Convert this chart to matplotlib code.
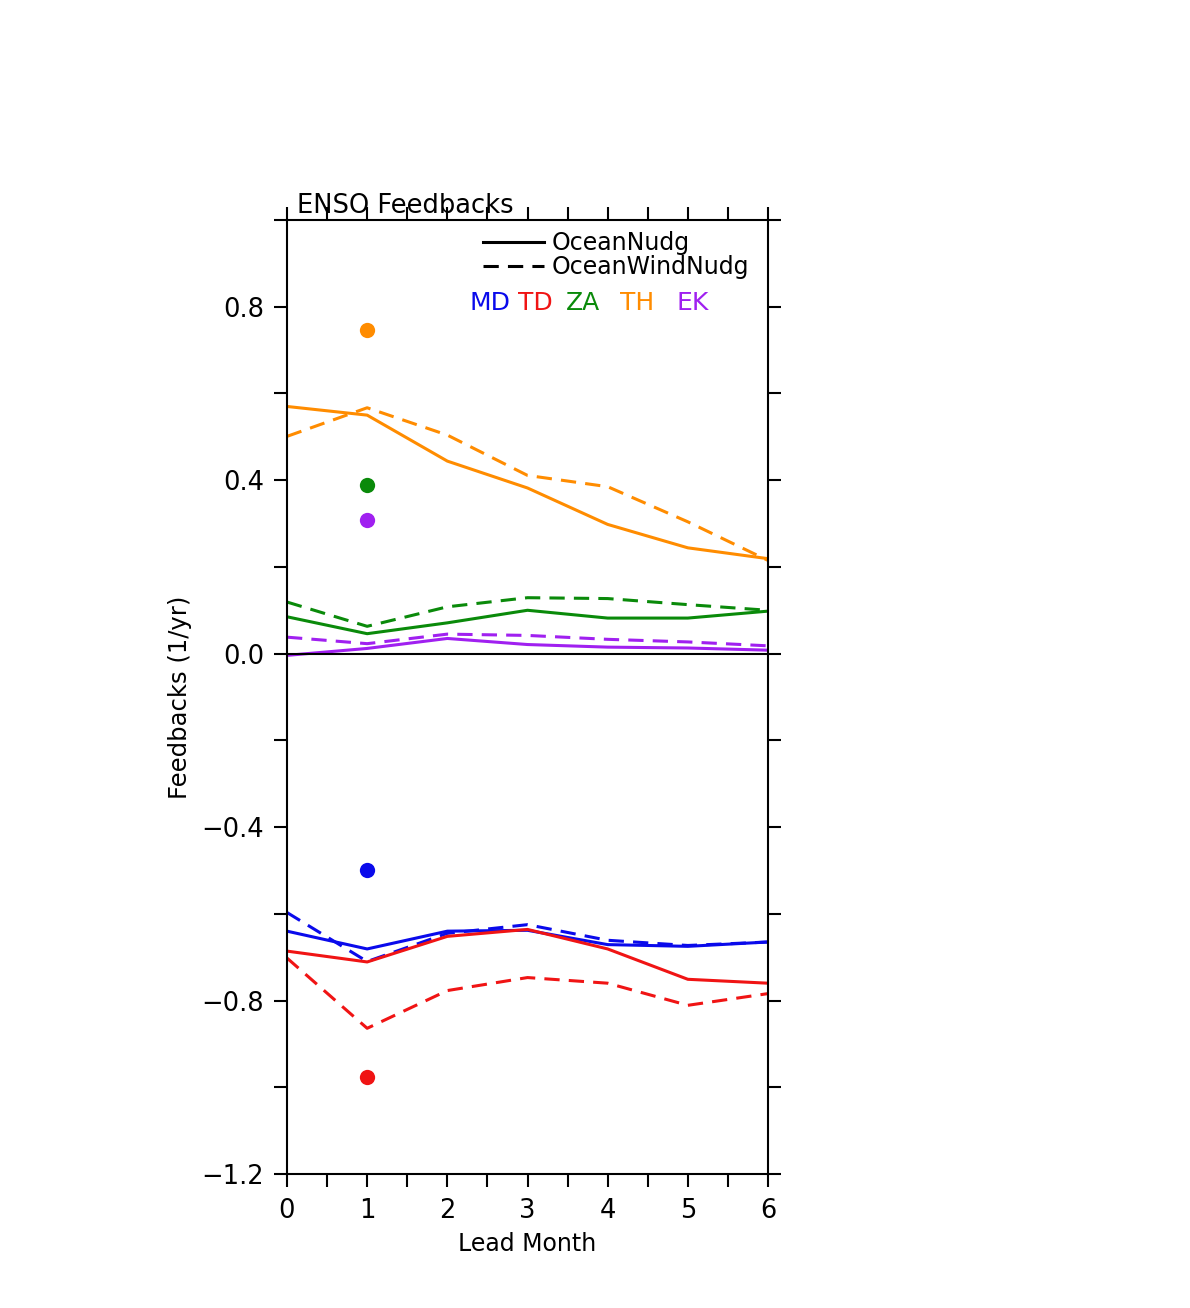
import matplotlib
matplotlib.use("Agg")
import matplotlib.pyplot as plt
from matplotlib.lines import Line2D
import numpy as np

plt.rcParams['font.family'] = ['DejaVu Sans']

lead = [0, 1, 2, 3, 4, 5, 6]

# OceanNudg (solid)
md_solid = [-0.640, -0.681, -0.640, -0.638, -0.671, -0.675, -0.665]
td_solid = [-0.686, -0.711, -0.652, -0.636, -0.681, -0.751, -0.760]
za_solid = [0.085, 0.046, 0.071, 0.100, 0.082, 0.082, 0.098]
th_solid = [0.570, 0.550, 0.444, 0.382, 0.298, 0.244, 0.219]
ek_solid = [-0.004, 0.012, 0.035, 0.021, 0.015, 0.013, 0.008]

# OceanWindNudg (dashed)
md_dash = [-0.597, -0.710, -0.645, -0.625, -0.661, -0.673, -0.665]
td_dash = [-0.702, -0.864, -0.777, -0.747, -0.760, -0.811, -0.784]
za_dash = [0.119, 0.063, 0.108, 0.129, 0.127, 0.113, 0.100]
th_dash = [0.501, 0.567, 0.504, 0.411, 0.385, 0.304, 0.215]
ek_dash = [0.038, 0.023, 0.045, 0.042, 0.033, 0.027, 0.018]

# observed values (dots at lead 1)
obs_x = 1
obs_md = -0.500
obs_td = -0.977
obs_za = 0.388
obs_th = 0.747
obs_ek = 0.309

names = ["MD", "TD", "ZA", "TH", "EK"]
colors = {"MD": "#0a0aeb", "TD": "#f01414", "ZA": "#0a8a0a",
          "TH": "#ff8c00", "EK": "#a020f0"}
solid = {"MD": md_solid, "TD": td_solid, "ZA": za_solid, "TH": th_solid, "EK": ek_solid}
dashed = {"MD": md_dash, "TD": td_dash, "ZA": za_dash, "TH": th_dash, "EK": ek_dash}
obs = {"MD": obs_md, "TD": obs_td, "ZA": obs_za, "TH": obs_th, "EK": obs_ek}

fig = plt.figure(figsize=(11.9, 13.08), dpi=100)
ax = fig.add_axes([287/1190, 1 - 1174/1308, 481/1190, 954/1308])

lw = 2.2
for n in names:
    c = colors[n]
    ax.plot(lead, dashed[n], color=c, lw=lw, linestyle=(0, (5, 3)))
    ax.plot(lead, solid[n], color=c, lw=lw, solid_joinstyle='round')
    ax.plot([obs_x], [obs[n]], 'o', color=c, markersize=11, markeredgewidth=0)

ax.axhline(0, color='black', lw=1.5)

ax.set_xlim(0, 6)
ax.set_ylim(-1.2, 1.0)
xt = np.arange(0, 6.01, 0.5)
ax.set_xticks(xt)
ax.set_xticklabels([str(int(v)) if float(v).is_integer() else '' for v in xt])
yt = np.round(np.arange(-1.2, 1.001, 0.2), 1)
ax.set_yticks(yt)
ylabels = []
for v in yt:
    if abs(round(v / 0.4) * 0.4 - v) < 1e-6 and v < 0.95:
        s = f"{abs(v):.1f}"
        if v < -1e-9:
            s = "\u2212" + s
        ylabels.append(s)
    else:
        ylabels.append('')
ax.set_yticklabels(ylabels)
ax.tick_params(axis='both', which='major', direction='out', length=9.5, width=1.5,
               labelsize=18.5, top=True, right=True)
ax.tick_params(axis='x', pad=8)
ax.tick_params(axis='y', pad=7)
for s in ax.spines.values():
    s.set_linewidth(1.5)

ax.set_xlabel("Lead Month", fontsize=17)
ax.xaxis.set_label_coords(0.5, -0.0613)
ax.set_ylabel("Feedbacks (1/yr)", fontsize=17.5)
ax.yaxis.set_label_coords(-0.197, 0.5)

ax.text(0.021, 1.007, "ENSO Feedbacks", transform=ax.transAxes, fontsize=18.5,
        ha='left', va='baseline')

handles = [Line2D([], [], color='black', lw=2.2),
           Line2D([], [], color='black', lw=2.2, linestyle=(0, (5, 3)))]
leg = ax.legend(handles, ["OceanNudg", "OceanWindNudg"], loc='upper left',
                bbox_to_anchor=(0.407, 0.988), frameon=False, fontsize=17,
                handlelength=2.6, handletextpad=0.3, labelspacing=0.0,
                borderpad=0, borderaxespad=0)

label_x = {"MD": 0.380, "TD": 0.480, "ZA": 0.580, "TH": 0.692, "EK": 0.809}
for n in names:
    ax.text(label_x[n], 0.9057, n, color=colors[n], transform=ax.transAxes,
            fontsize=18, ha='left', va='baseline')

fig.savefig("out.png", dpi=100)
